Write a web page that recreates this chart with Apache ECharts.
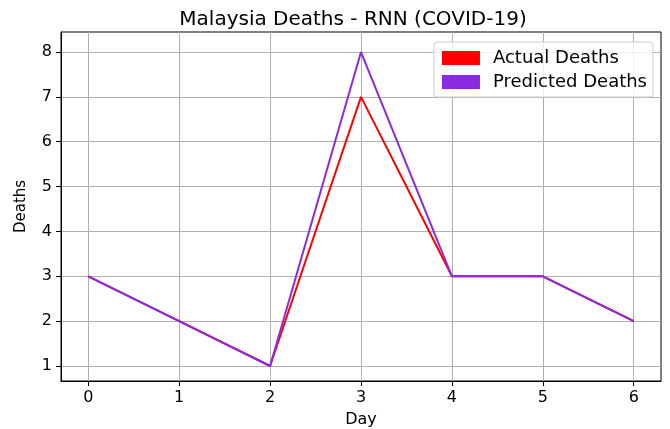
<!DOCTYPE html>
<html>
<head>
<meta charset="utf-8">
<script src="https://cdn.jsdelivr.net/npm/echarts@6/dist/echarts.min.js"></script>
<style>html,body{margin:0;padding:0;background:#fff}#main{width:670px;height:429px}</style>
</head>
<body>
<div id="main"></div>
<script>
var days = [0, 1, 2, 3, 4, 5, 6];
var actualDeaths = [3, 2, 1, 7, 3, 3, 2];
var predictedDeaths = [3, 2, 1, 8, 3, 3, 2];
var yTicks = [1, 2, 3, 4, 5, 6, 7, 8];

var font = "DejaVu Sans";
var myChart = echarts.init(document.getElementById("main"));

function pairs(xs, ys) {
  return xs.map(function (x, i) { return [x, ys[i]]; });
}

var option = {
  animation: false,
  backgroundColor: "#fff",
  title: {
    text: "Malaysia Deaths - RNN (COVID-19)",
    left: 348,
    textAlign: "center",
    top: 5,
    textStyle: { fontFamily: font, fontSize: 20, fontWeight: "normal", color: "#000" },
  },
  legend: {
    right: 17,
    top: 42,
    orient: "vertical",
    icon: "rect",
    itemWidth: 38,
    itemHeight: 14,
    itemGap: 6,
    padding: [7, 6, 6, 8],
    backgroundColor: "rgba(255,255,255,0.8)",
    borderColor: "#ccc",
    borderWidth: 1,
    borderRadius: 3,
    textStyle: { fontFamily: font, fontSize: 18, color: "#000", padding: [0, 0, 0, 8] },
    data: ["Actual Deaths", "Predicted Deaths"],
  },
  grid: {
    left: 61,
    right: 9,
    top: 32,
    bottom: 48,
    show: true,
    borderColor: "#000",
    borderWidth: 1,
    containLabel: false,
    outerBoundsMode: "none",
  },
  xAxis: {
    type: "value",
    min: -0.3,
    max: 6.3,
    name: "Day",
    nameLocation: "middle",
    nameGap: 31,
    nameTextStyle: { fontFamily: font, fontSize: 16, color: "#000" },
    axisLine: { show: true, onZero: false, lineStyle: { color: "#000" } },
    axisTick: { show: true, length: 5, customValues: days, lineStyle: { color: "#000" } },
    axisLabel: { fontFamily: font, fontSize: 16, color: "#000", margin: 9, customValues: days },
    splitLine: { show: true, lineStyle: { color: "#b0b0b0", width: 1 } },
  },
  yAxis: {
    type: "value",
    min: 0.666,
    max: 8.446,
    name: "Deaths",
    nameLocation: "middle",
    nameGap: 32,
    nameTextStyle: { fontFamily: font, fontSize: 15, color: "#000" },
    axisLine: { show: true, onZero: false, lineStyle: { color: "#000" } },
    axisTick: { show: true, length: 5, customValues: yTicks, lineStyle: { color: "#000" } },
    axisLabel: { fontFamily: font, fontSize: 16, color: "#000", margin: 9, customValues: yTicks },
    splitLine: { show: true, lineStyle: { color: "#b0b0b0", width: 1 } },
  },
  series: [
    {
      name: "Actual Deaths",
      type: "line",
      data: pairs(days, actualDeaths),
      showSymbol: false,
      color: "#ff0000",
      lineStyle: { color: "#ff0000", width: 2 },
    },
    {
      name: "Predicted Deaths",
      type: "line",
      data: pairs(days, predictedDeaths),
      showSymbol: false,
      color: "#8a2be2",
      lineStyle: { color: "#8a2be2", width: 2 },
    },
  ],
};
myChart.setOption(option);
</script>
</body>
</html>
